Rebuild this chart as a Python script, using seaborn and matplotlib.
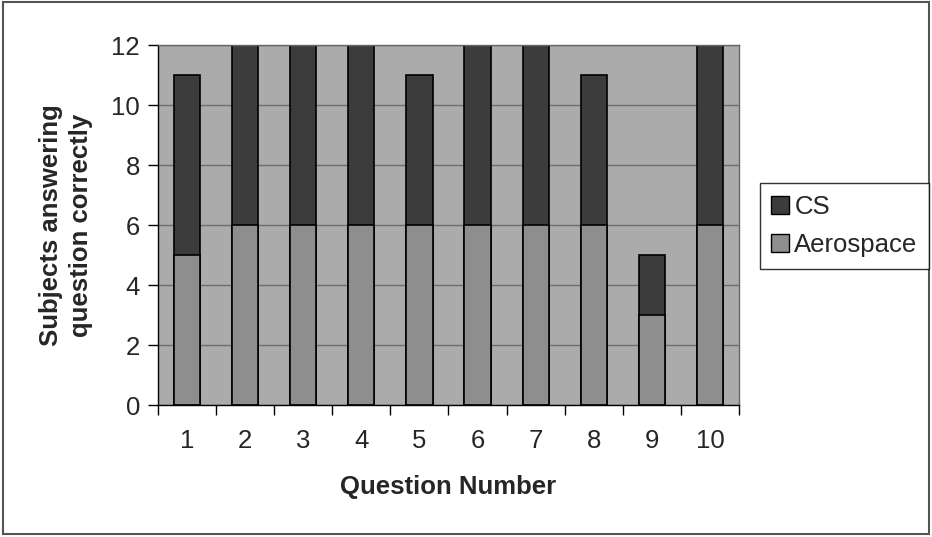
import matplotlib
matplotlib.use("Agg")
import matplotlib.pyplot as plt
import matplotlib.patches as mpatches
import seaborn as sns
import pandas as pd

questions = ["1", "2", "3", "4", "5", "6", "7", "8", "9", "10"]
aerospace = [5, 6, 6, 6, 6, 6, 6, 6, 3, 6]
cs = [6, 6, 6, 6, 5, 6, 6, 5, 2, 6]
yticks = [0, 2, 4, 6, 8, 10, 12]

sns.set_theme(style="white")
plt.rcParams['font.family'] = ['Liberation Sans', 'DejaVu Sans']

totals = [a + c for a, c in zip(aerospace, cs)]
df = pd.DataFrame({"Question": questions, "Aerospace": aerospace, "CS": cs, "Total": totals})

fig = plt.figure(figsize=(9.32, 5.37), dpi=100)
ax = fig.add_axes([0.1695, 0.2458, 0.6234, 0.670])
ax.set_facecolor("#ababab")

c_cs = "#3c3c3c"
c_aero = "#8e8e8e"

ax.yaxis.grid(True, color="#6e6e6e", linewidth=1.0)
ax.set_axisbelow(True)

sns.barplot(data=df, x="Question", y="Total", color=c_cs, width=0.45,
            edgecolor="black", linewidth=1.2, ax=ax, saturation=1)
sns.barplot(data=df, x="Question", y="Aerospace", color=c_aero, width=0.45,
            edgecolor="black", linewidth=1.2, ax=ax, saturation=1)

fs = 18.5
ax.set_ylim(0, 12)
ax.set_xlim(-0.5, len(questions) - 0.5)
ax.set_yticks(yticks)
ax.set_yticklabels([str(v) for v in yticks], fontsize=fs)
ax.tick_params(axis="y", direction="out", length=7, width=1, color="black", pad=6, left=True)
ax.set_xticks(range(len(questions)))
ax.set_xticklabels(questions, fontsize=fs)
ax.tick_params(axis="x", which="major", length=0, pad=17)
ax.set_xticks([i - 0.5 for i in range(len(questions) + 1)], minor=True)
ax.tick_params(axis="x", which="minor", direction="out", length=7, width=1, color="black", bottom=True)

for s in ["top", "right"]:
    ax.spines[s].set_color("#666666")
    ax.spines[s].set_linewidth(1)
for s in ["left", "bottom"]:
    ax.spines[s].set_color("black")
    ax.spines[s].set_linewidth(1)

ax.set_xlabel("Question Number", fontsize=fs, fontweight="bold", labelpad=16)
ax.set_ylabel("Subjects answering\nquestion correctly", fontsize=fs, fontweight="bold", labelpad=13,
              linespacing=1.3)

handles = [mpatches.Patch(facecolor=c_cs, edgecolor="black", label="CS"),
           mpatches.Patch(facecolor=c_aero, edgecolor="black", label="Aerospace")]
leg = fig.legend(handles=handles, loc="center left", bbox_to_anchor=(0.815, 0.579),
                 fontsize=fs, frameon=True, fancybox=False, handlelength=0.7,
                 handleheight=0.7, handletextpad=0.2, borderpad=0.45, labelspacing=0.55,
                 borderaxespad=0)
leg.get_frame().set_edgecolor("black")
leg.get_frame().set_linewidth(1)

fig.patches.append(mpatches.Rectangle((0.003, 0.006), 0.994, 0.99, transform=fig.transFigure,
                                      fill=False, edgecolor="#555555", linewidth=1.5))

fig.savefig("out.png", dpi=100)
